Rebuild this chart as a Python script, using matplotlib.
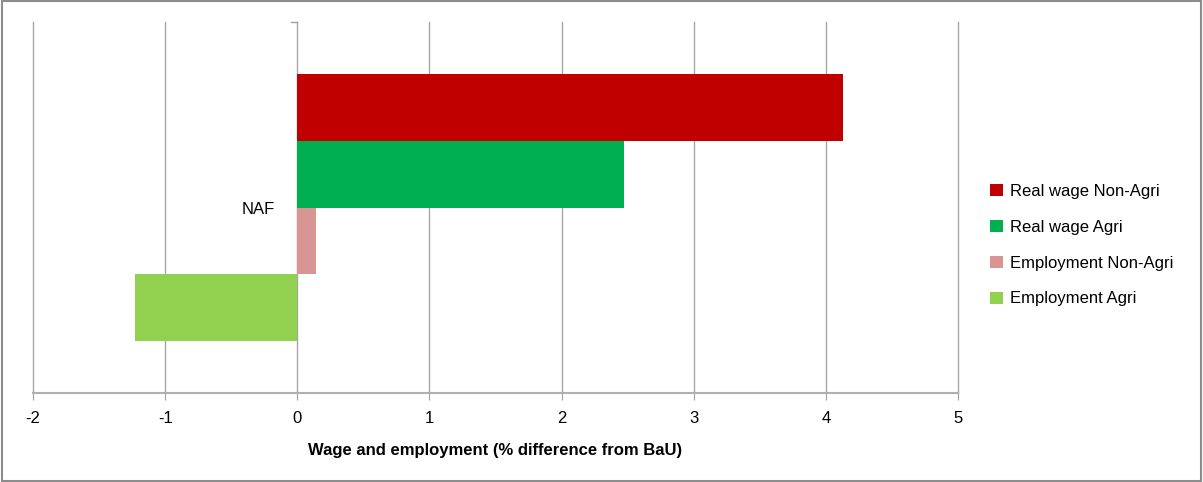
import matplotlib.pyplot as plt
import numpy as np
from matplotlib.patches import Rectangle

plt.rcParams['font.family'] = ['Liberation Sans', 'DejaVu Sans']

# Data
category = 'NAF'
series = ['Real wage Non-Agri', 'Real wage Agri', 'Employment Non-Agri', 'Employment Agri']
values = [4.13, 2.47, 0.14, -1.23]
colors = ['#C00000', '#00B050', '#D99594', '#92D050']
xticks = [-2, -1, 0, 1, 2, 3, 4, 5]

W, H = 1203, 482
fig = plt.figure(figsize=(W / 100, H / 100), dpi=100)
ax = fig.add_axes([33 / W, 1 - 393 / H, (958 - 33) / W, (393 - 22) / H])

# bars of a single category, stacked top to bottom
n = len(values)
bar_h = 0.722 / n
offsets = (np.arange(n)[::-1] - (n - 1) / 2) * bar_h
for off, v, c, lab in zip(offsets, values, colors, series):
    ax.barh(off, v, height=bar_h, color=c, label=lab, zorder=3)

ax.set_xlim(-2, 5)
ax.set_ylim(-0.5, 0.5)
ax.set_xticks(xticks)
ax.set_xticklabels([str(t) for t in xticks], fontsize=12)
ax.tick_params(axis='x', length=5, color='#A0A0A0', pad=8)
# vertical gridlines (drawn unclipped so the one at 5 is whole)
for t in xticks:
    ax.axvline(t, color='#A6A6A6', linewidth=1, zorder=0, clip_on=False)

# category axis crosses at zero
ax.spines['left'].set_position(('data', 0))
ax.spines['left'].set_visible(False)
ax.set_yticks([0])
ax.set_yticklabels([category], fontsize=12)
ax.tick_params(axis='y', length=0, pad=16)
ax.plot([-0.05, 0], [0.5, 0.5], color='#A0A0A0', lw=1, clip_on=False)

for s in ['top', 'right']:
    ax.spines[s].set_visible(False)
ax.spines['bottom'].set_color('#B0B0B0')
ax.spines['bottom'].set_linewidth(1.5)

ax.set_xlabel('Wage and employment (% difference from BaU)', fontsize=12,
              fontweight='bold', labelpad=12)

leg = fig.legend(loc='upper left', bbox_to_anchor=(975 / W, 1 - 169 / H),
                 frameon=False, fontsize=12, handlelength=0.75, handleheight=0.75,
                 handletextpad=0.45, labelspacing=1.25)

# outer chart border
fig.patches.append(Rectangle((0.002, 0.003), 0.996, 0.994, transform=fig.transFigure,
                             fill=False, edgecolor='#8C8C8C', linewidth=1.5))

fig.savefig('out.png', dpi=100, facecolor='white')
